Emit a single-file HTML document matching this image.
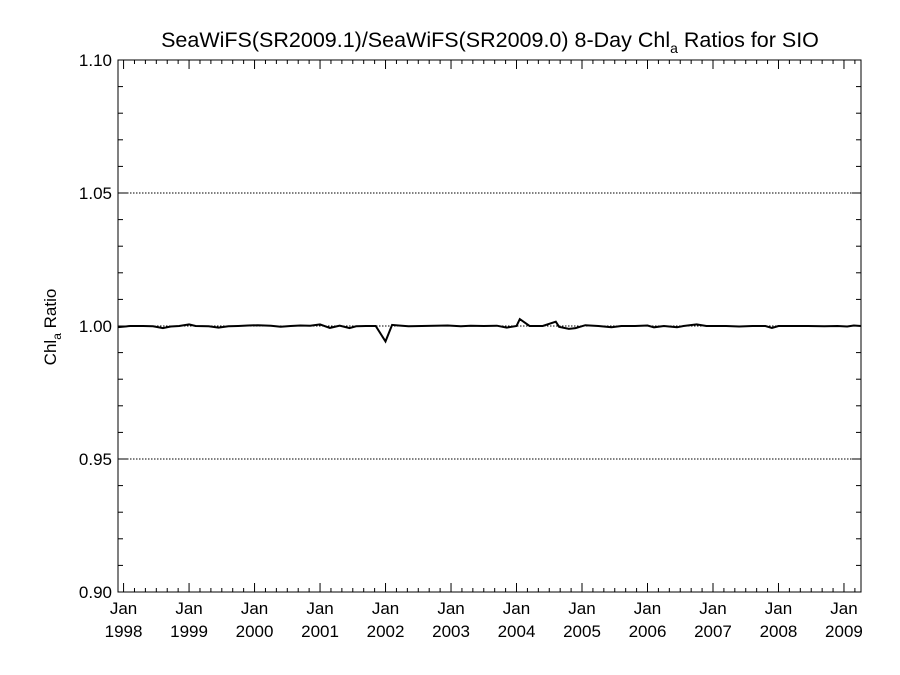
<!DOCTYPE html>
<html><head><meta charset="utf-8"><style>
body{margin:0;background:#fff;}
svg{display:block;font-family:"Liberation Sans",Arial,sans-serif;}
</style></head><body>
<svg id="chart" width="900" height="675">
<text x="490" y="47" text-anchor="middle" font-size="21.5">SeaWiFS(SR2009.1)/SeaWiFS(SR2009.0) 8-Day Chl<tspan font-size="14" dy="6">a</tspan><tspan dy="-6"> Ratios for SIO</tspan></text>
<text transform="translate(56,327) rotate(-90)" text-anchor="middle" font-size="17">Chl<tspan font-size="12" dy="5">a</tspan><tspan dy="-5"> Ratio</tspan></text>
<g id="axes"></g>
<g id="series"></g>
</svg>
<script>
const yTicks=[0.90,0.95,1.00,1.05,1.10];
const yTickLabels=["0.90","0.95","1.00","1.05","1.10"];
const xYears=[1998,1999,2000,2001,2002,2003,2004,2005,2006,2007,2008,2009];
const dates=[1997.92,1998.1,1998.3,1998.45,1998.6,1998.72,1998.85,1999.0,1999.1,1999.3,1999.45,1999.6,1999.75,1999.9,2000.05,2000.25,2000.4,2000.55,2000.7,2000.85,2001.0,2001.15,2001.3,2001.45,2001.55,2001.7,2001.85,2002.0,2002.1,2002.2,2002.35,2002.55,2002.75,2002.95,2003.15,2003.3,2003.5,2003.7,2003.85,2004.0,2004.05,2004.2,2004.4,2004.6,2004.65,2004.8,2004.9,2005.05,2005.25,2005.45,2005.6,2005.8,2006.0,2006.1,2006.25,2006.45,2006.55,2006.75,2006.9,2007.05,2007.2,2007.4,2007.6,2007.8,2007.9,2008.0,2008.2,2008.45,2008.7,2008.9,2009.05,2009.15,2009.26];
const ratios=[0.9996,1.0,1.0,0.9999,0.9992,0.9998,1.0,1.0006,1.0,0.9999,0.9994,0.9999,1.0,1.0002,1.0003,1.0001,0.9997,1.0,1.0002,1.0001,1.0006,0.9993,1.0001,0.9992,0.9999,1.0,1.0,0.9942,1.0004,1.0002,0.9999,1.0,1.0001,1.0002,0.9999,1.0001,1.0,1.0001,0.9994,1.0,1.0026,1.0,1.0,1.0016,0.9997,0.9989,0.9992,1.0003,1.0,0.9995,1.0,1.0,1.0002,0.9995,1.0,0.9995,1.0,1.0006,1.0,1.0,1.0,0.9998,1.0,1.0,0.9993,1.0,1.0,1.0,0.9999,1.0,0.9998,1.0002,1.0];
const X0=118,X1=861,Y0=60,Y1=592,T0=1997.915,T1=2009.26;
const xs=t=>X0+(t-T0)/(T1-T0)*(X1-X0);
const ys=v=>Y1-(v-0.90)/(0.20)*(Y1-Y0);
const NS="http://www.w3.org/2000/svg";
const ax=document.getElementById('axes');
function mk(tag,attrs,parent){const e=document.createElementNS(NS,tag);for(const k in attrs)e.setAttribute(k,attrs[k]);parent.appendChild(e);return e;}
let e;
e=mk('rect',{x:X0,y:Y0,width:X1-X0,height:Y1-Y0,fill:'none',stroke:'#000','stroke-width':1},ax);


for(let i=0;i<=20;i++){const v=0.90+i*0.01;const y=ys(v);const major=i%5===0;const len=major?9:5;
 e=mk('line',{x1:X0,x2:X0+len,y1:y,y2:y,stroke:'#000'},ax);
 
 
 e=mk('line',{x1:X1,x2:X1-len,y1:y,y2:y,stroke:'#000'},ax);
 
 }
yTicks.forEach((v,i)=>{const y=ys(v);
 if(i>0&&i<yTicks.length-1){e=mk('line',{x1:X0,x2:X1,y1:y,y2:y,stroke:'#000','stroke-dasharray':'1.5,1.5'},ax);
 
 }
 e=mk('text',{x:X0-6,y:y+6,'text-anchor':'end','font-size':17},ax);e.textContent=yTickLabels[i];
 
 });
for(let y=1997;y<=2009;y++){for(let m=0;m<12;m+=2){const t=y+m/12;if(t<T0||t>T1)continue;const x=xs(t);const len=m===0?9:4;
 e=mk('line',{x1:x,x2:x,y1:Y1,y2:Y1-len,stroke:'#000'},ax);
 
 
 e=mk('line',{x1:x,x2:x,y1:Y0,y2:Y0+len,stroke:'#000'},ax);
 
 }}
xYears.forEach(yr=>{const x=xs(yr);
 e=mk('text',{x:x,y:614,'text-anchor':'middle','font-size':17},ax);e.textContent='Jan';
 
 
 e=mk('text',{x:x,y:637,'text-anchor':'middle','font-size':17},ax);e.textContent=String(yr);
 
 });
const pts=dates.map((d,i)=>xs(d).toFixed(1)+','+ys(ratios[i]).toFixed(1)).join(' ');
e=mk('polyline',{points:pts,fill:'none',stroke:'#000','stroke-width':2,'stroke-linejoin':'miter'},document.getElementById('series'));


</script>
</body></html>
